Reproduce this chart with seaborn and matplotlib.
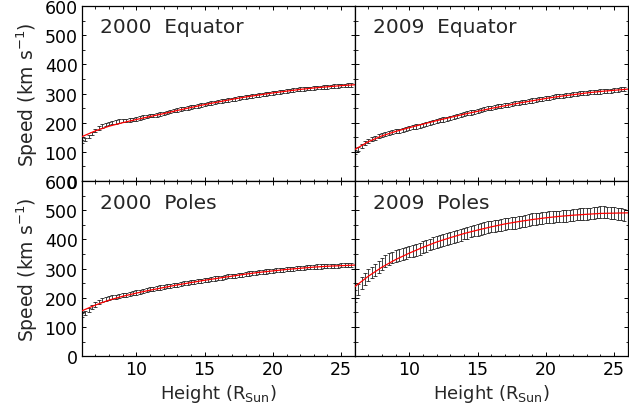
import matplotlib
matplotlib.use('Agg')

import numpy as np
import pandas as pd
import matplotlib.pyplot as plt
import seaborn as sns
from matplotlib.ticker import MultipleLocator

# --- dados (altura em R_Sun, velocidade em km/s) ---
altura = [6.00 + 0.25 * i for i in range(80)]

vel_2000_eq = [135, 143, 152, 163, 174, 182, 188, 193, 197, 200, 203, 205, 207, 208, 210, 211,
               213, 216, 219, 222, 224, 225, 227, 229, 232, 235, 238, 241, 244, 247, 249, 251,
               253, 256, 258, 261, 263, 266, 268, 270, 272, 274, 276, 278, 280, 282, 284, 286,
               288, 289, 291, 293, 295, 297, 299, 300, 302, 304, 306, 307, 309, 311, 312, 314,
               315, 316, 317, 318, 319, 320, 321, 322, 323, 324, 325, 326, 327, 328, 329, 329]

vel_2009_eq = [100, 110, 120, 130, 138, 144, 149, 154, 158, 162, 165, 167, 170, 172, 175, 178,
               181, 184, 187, 190, 193, 196, 199, 202, 205, 208, 211, 214, 217, 220, 223, 226,
               229, 232, 235, 238, 241, 244, 247, 249, 251, 253, 256, 258, 260, 262, 264, 266,
               268, 270, 272, 274, 276, 278, 280, 282, 284, 286, 288, 290, 292, 293, 295, 296,
               298, 299, 301, 302, 303, 304, 305, 306, 307, 308, 309, 310, 311, 312, 314, 315]

vel_2000_pol = [140, 148, 157, 167, 177, 185, 191, 195, 199, 202, 204, 207, 209, 211, 213, 216,
                218, 221, 224, 227, 229, 231, 233, 235, 237, 239, 241, 243, 245, 247, 249, 251,
                253, 254, 256, 258, 260, 262, 264, 266, 268, 269, 271, 273, 275, 276, 278, 279,
                281, 283, 284, 286, 287, 289, 290, 291, 293, 294, 295, 296, 298, 299, 300, 301,
                302, 303, 304, 305, 306, 307, 307, 308, 309, 309, 310, 310, 311, 311, 312, 312]

vel_2009_pol = [205, 228, 250, 265, 278, 287, 296, 306, 316, 325, 332, 338, 342, 346, 350, 354,
                358, 361, 364, 368, 373, 378, 383, 388, 392, 395, 398, 402, 405, 408, 412, 416,
                420, 423, 427, 430, 433, 436, 439, 442, 444, 446, 448, 450, 452, 454, 456, 457,
                459, 461, 464, 467, 469, 471, 472, 474, 475, 476, 477, 478, 479, 480, 481, 482,
                484, 485, 486, 487, 488, 489, 490, 492, 493, 493, 492, 491, 490, 488, 486, 483]

erro_2000_eq = 6
erro_2009_eq = 7
erro_2000_pol = 7
erro_2009_pol = 20

# --- ajuste (linha vermelha) ---
altura_ajuste = list(range(6, 27))
ajuste_2000_eq = [152, 172, 188, 200, 211, 221, 231, 242, 252, 262, 271, 280, 288, 295, 302,
                  308, 314, 319, 323, 327, 330]
ajuste_2009_eq = [108, 135, 155, 170, 183, 195, 207, 218, 229, 239, 249, 258, 267, 275, 283,
                  290, 296, 302, 307, 311, 315]
ajuste_2000_pol = [155, 175, 192, 205, 216, 226, 235, 244, 252, 260, 267, 274, 281, 287, 292,
                   297, 301, 305, 308, 310, 312]
ajuste_2009_pol = [238, 274, 305, 331, 353, 373, 391, 406, 420, 432, 443, 453, 461, 468, 474,
                   479, 483, 486, 489, 490, 491]

paineis = [
    ('2000  Equator', vel_2000_eq, erro_2000_eq, ajuste_2000_eq),
    ('2009  Equator', vel_2009_eq, erro_2009_eq, ajuste_2009_eq),
    ('2000  Poles', vel_2000_pol, erro_2000_pol, ajuste_2000_pol),
    ('2009  Poles', vel_2009_pol, erro_2009_pol, ajuste_2009_pol),
]

# --- estetica ---
sns.set_theme(style='ticks')
plt.rcParams['font.family'] = ['DejaVu Sans']
plt.rcParams.update({
    'xtick.direction': 'in', 'ytick.direction': 'in',
    'xtick.top': True, 'ytick.right': True,
    'xtick.major.size': 3.2, 'ytick.major.size': 3.2,
    'xtick.minor.size': 1.8, 'ytick.minor.size': 1.8,
    'xtick.major.width': 0.7, 'ytick.major.width': 0.7,
    'xtick.minor.width': 0.6, 'ytick.minor.width': 0.6,
    'axes.linewidth': 0.9, 'axes.edgecolor': 'black',
    'xtick.color': 'black', 'ytick.color': 'black',
})

fig, axes = plt.subplots(2, 2, figsize=(6.29, 4.10), dpi=100, sharex=True, sharey=True)
fig.subplots_adjust(left=0.130, right=0.998, top=0.983, bottom=0.129, hspace=0, wspace=0)

for ax, (titulo, vel, erro, ajuste) in zip(axes.flat, paineis):
    ax.errorbar(altura, vel, yerr=erro, fmt='none', ecolor='#222222', elinewidth=0.6,
                capsize=1.4, capthick=0.6, zorder=2)
    df_ajuste = pd.DataFrame({'altura': altura_ajuste, 'vel': ajuste})
    sns.lineplot(data=df_ajuste, x='altura', y='vel', ax=ax, color='red', lw=0.9, zorder=3)
    ax.text(0.066, 0.88, titulo, transform=ax.transAxes, fontsize=14.5, va='center', ha='left')
    ax.set_xlim(6, 26)
    ax.set_ylim(0, 600)
    ax.xaxis.set_major_locator(MultipleLocator(5))
    ax.xaxis.set_minor_locator(MultipleLocator(1))
    ax.yaxis.set_major_locator(MultipleLocator(100))
    ax.yaxis.set_minor_locator(MultipleLocator(50))
    ax.tick_params(which='both', labelsize=12.5, pad=3)
    ax.tick_params(which='both', top=True, right=True)
    ax.set_xlabel('')
    ax.set_ylabel('')

for ax in axes[:, 0]:
    ax.set_ylabel('Speed (km s$^{-1}$)', fontsize=13.5, labelpad=3)
for ax in axes[1, :]:
    ax.set_xlabel('Height (R$_{\\rm Sun}$)', fontsize=13, labelpad=3)

plt.savefig('out.png', dpi=100)
plt.close()
